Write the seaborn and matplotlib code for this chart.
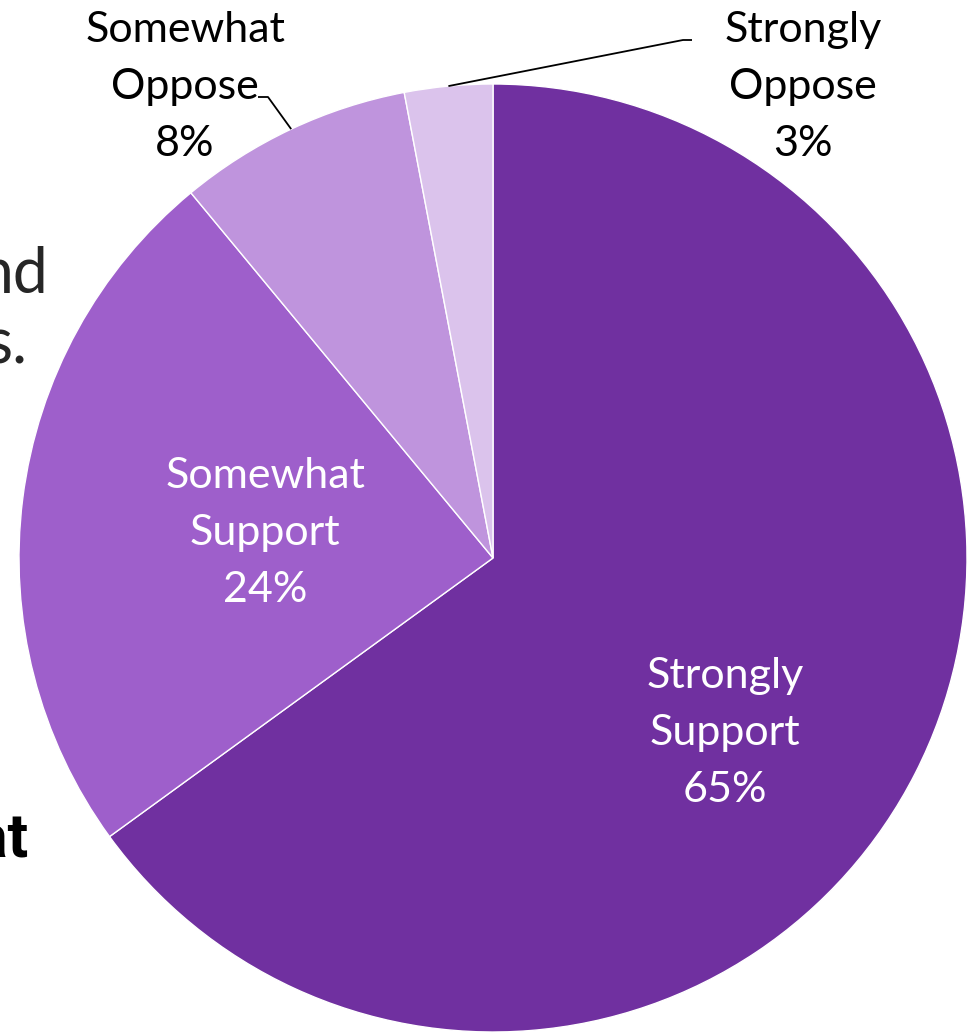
import numpy as np
import matplotlib
matplotlib.use("Agg")
import matplotlib.pyplot as plt
import seaborn as sns

labels = ["Strongly\nSupport", "Somewhat\nSupport", "Somewhat\nOppose", "Strongly\nOppose"]
shares = [65, 24, 8, 3]
colors = ["#7030A0", "#9E5FCB", "#BF94DD", "#DBC3EC"]

W, H = 972, 1035
CX, CY, R = 493, 558, 474


def py(y):
    # pixel-from-top to data y
    return H - y


sns.set_theme(style="white")
plt.rcParams["font.family"] = ["Lato", "DejaVu Sans"]

fig = plt.figure(figsize=(W / 100, H / 100), dpi=100)
ax = fig.add_axes([0, 0, 1, 1])

wedges, _ = ax.pie(shares, colors=colors, startangle=90, counterclock=False,
                   center=(CX, py(CY)), radius=R,
                   wedgeprops=dict(edgecolor="white", linewidth=1.0))
ax.set_xlim(0, W)
ax.set_ylim(0, H)
ax.set_aspect("equal")
ax.axis("off")

# label positions (pixels from top-left)
label_pos = [(725, 733), (265, 533), (185, 87), (803, 87)]
label_col = ["white", "white", "black", "black"]
for w, lab, val, (x, y), c in zip(wedges, labels, shares, label_pos, label_col):
    ax.text(x, py(y), f"{lab}\n{val}%", ha="center", va="center",
            multialignment="center", fontsize=31, color=c, linespacing=1.62)

# leader lines for the two small outside slices
elbows = {2: [(268, 97), (258, 97)], 3: [(683, 40), (692, 40)]}
for i, pts in elbows.items():
    w = wedges[i]
    mid = np.deg2rad((w.theta1 + w.theta2) / 2)
    x0 = CX + R * np.cos(mid)
    y0 = py(CY) + R * np.sin(mid)
    xs = [x0] + [p[0] for p in pts]
    ys = [y0] + [py(p[1]) for p in pts]
    ax.plot(xs, ys, color="black", linewidth=1.3, solid_capstyle="butt")

# clipped slide text at the left edge
ax.text(48, py(293), "nd", ha="right", va="baseline", fontsize=45, color="#262626")
ax.text(28, py(364), "s.", ha="right", va="baseline", fontsize=45, color="#262626")
ax.text(28, py(857), "at", ha="right", va="baseline", fontsize=44,
        color="black", fontweight="bold", family=["Liberation Sans Narrow", "Roboto"])

fig.savefig("out.png", dpi=100, facecolor="white")
